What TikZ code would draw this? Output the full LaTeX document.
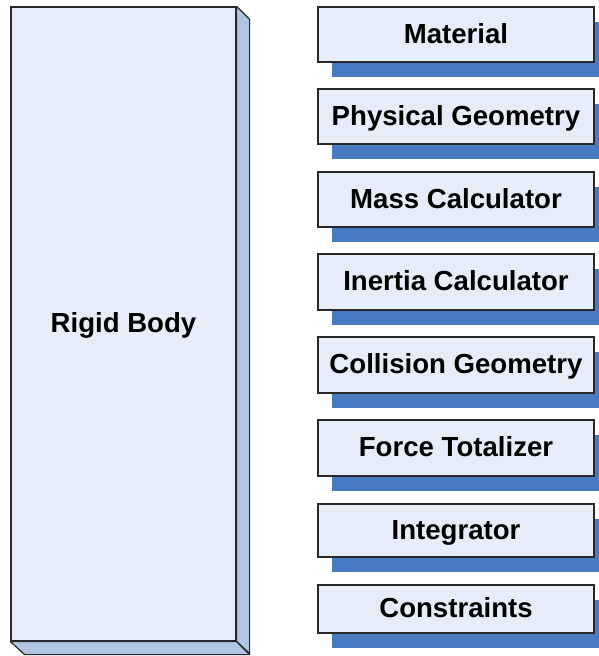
\documentclass[tikz,border=0pt]{standalone}
\usepackage{fontspec}
\setmainfont{Liberation Sans}
\usetikzlibrary{shadows}
\definecolor{facefill}{RGB}{230,237,248}
\definecolor{sidefill}{RGB}{176,196,227}
\definecolor{shadowblue}{RGB}{72,122,194}
\definecolor{edgecol}{RGB}{40,40,40}
\begin{document}
\begin{tikzpicture}[x=1pt,y=-1pt,
  lbl/.style={font=\fontsize{27.6}{30}\selectfont\bfseries, text height=20pt, text depth=3pt},
  facebox/.style={draw=edgecol, line width=1.2pt, fill=facefill, inner sep=0pt, lbl},
  partbox/.style={facebox, minimum width=276pt,
    general shadow={fill=shadowblue, draw=none, shadow xshift=14pt, shadow yshift=-15pt}},
  sideface/.style={draw=edgecol, line width=1.2pt, fill=sidefill, line join=round}]
\useasboundingbox (0,0) rectangle (598,656);
% rigid body 3D block
\node[facebox, minimum width=225pt, minimum height=634pt] (rb) at (123.5,324) {Rigid Body};
\draw[sideface] (rb.north east) -- ++(13,13) -- ++(0,634) -- (rb.south east) -- cycle;
\draw[sideface] (rb.south west) -- (rb.south east) -- ++(13,13) -- ++(-225,0) -- cycle;
% parts
\node[partbox, minimum height=55pt] (mat) at (456,34.5) {Material};
\node[partbox, minimum height=55pt] (geo) at (456,116.5) {Physical Geometry};
\node[partbox, minimum height=55pt] (mass) at (456,199.5) {Mass Calculator};
\node[partbox, minimum height=56pt] (inert) at (456,282) {Inertia Calculator};
\node[partbox, minimum height=56pt] (coll) at (456,365) {Collision Geometry};
\node[partbox, minimum height=56pt] (force) at (456,448) {Force Totalizer};
\node[partbox, minimum height=53pt] (integ) at (456,530.5) {Integrator};
\node[partbox, minimum height=48pt] (cons) at (456,609) {Constraints};
\end{tikzpicture}
\end{document}
